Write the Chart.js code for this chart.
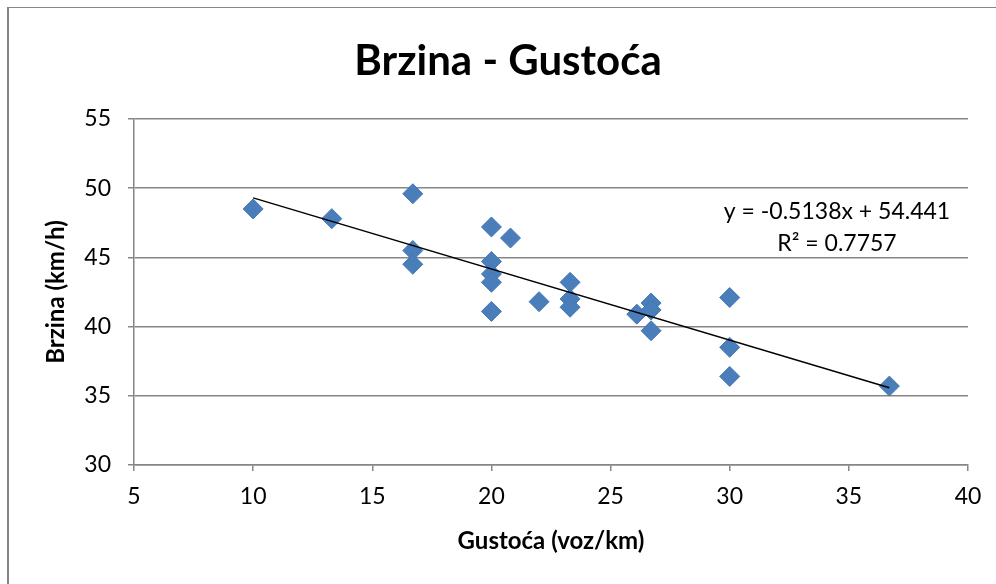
<!DOCTYPE html>
<html>
<head>
<meta charset="utf-8">
<script src="https://cdn.jsdelivr.net/npm/chart.js@4/dist/chart.umd.min.js"></script>
<style>
  html, body { margin: 0; padding: 0; background: #fff; }
  #wrap { width: 996px; height: 584px; }
</style>
</head>
<body>
<div id="wrap"><canvas id="chart" width="996" height="584"></canvas></div>
<script>
// Gustoća (voz/km) and Brzina (km/h)
const gustoca = [10, 13.3, 16.7, 16.7, 16.7, 20, 20, 20, 20, 20, 20.8, 22, 23.3, 23.3, 23.3, 26.1, 26.7, 26.7, 26.7, 30, 30, 30, 36.7];
const brzina  = [48.5, 47.8, 49.6, 45.5, 44.5, 47.2, 44.7, 43.8, 43.2, 41.1, 46.4, 41.8, 43.2, 42.0, 41.4, 40.9, 41.7, 41.2, 39.7, 42.1, 38.5, 36.4, 35.7];

// linear trend as printed on the chart
const slope = -0.5138;
const intercept = 54.441;
const trendLabel = ['y = -0.5138x + 54.441', 'R\u00b2 = 0.7757'];
const chartTitle = 'Brzina - Gustoća';

const points = gustoca.map((x, i) => ({ x: x, y: brzina[i] }));
const xMin = Math.min(...gustoca);
const xMax = Math.max(...gustoca);
const trend = [xMin, xMax].map(x => ({ x: x, y: slope * x + intercept }));

const FONT = "Lato, 'Liberation Sans', sans-serif";
const GRID = '#868686';

// outer frame (only top and left edges show in the picture) and the title
const framePlugin = {
    id: 'frame',
    beforeDraw(chart) {
        const ctx = chart.ctx;
        ctx.save();
        ctx.fillStyle = GRID;
        ctx.fillRect(7, 7, 2, 584);
        ctx.fillRect(7, 7, 996, 1);
        ctx.fillStyle = '#000';
        ctx.font = 'bold 42px ' + FONT;
        ctx.textAlign = 'center';
        ctx.textBaseline = 'alphabetic';
        ctx.fillText(chartTitle, 508, 75);
        ctx.restore();
    }
};

// trendline equation text
const eqPlugin = {
    id: 'equation',
    afterDatasetsDraw(chart) {
        const ctx = chart.ctx;
        const area = chart.chartArea;
        ctx.save();
        ctx.fillStyle = '#000';
        ctx.font = '23px ' + FONT;
        ctx.textAlign = 'center';
        ctx.textBaseline = 'middle';
        const cx = area.right - 131;
        ctx.fillText(trendLabel[0], cx, area.top + 93);
        ctx.fillText(trendLabel[1], cx, area.top + 125);
        ctx.restore();
    }
};

new Chart(document.getElementById('chart').getContext('2d'), {
    type: 'scatter',
    data: {
        datasets: [{
            label: 'Brzina',
            data: points,
            pointStyle: 'rectRot',
            pointRadius: 10,
            pointHoverRadius: 10,
            backgroundColor: '#4a7ebb',
            borderColor: '#4677b4',
            borderWidth: 1,
            order: 2
        }, {
            type: 'line',
            label: 'Trend',
            data: trend,
            borderColor: '#000',
            borderWidth: 1.5,
            pointRadius: 0,
            fill: false,
            order: 1
        }]
    },
    options: {
        responsive: false,
        animation: false,
        layout: { padding: { left: 42, right: 28, top: 119, bottom: 28 } },
        plugins: {
            legend: { display: false },
            tooltip: { enabled: false },
            title: { display: false }
        },
        scales: {
            x: {
                type: 'linear',
                min: 5,
                max: 40,
                ticks: { stepSize: 5, color: '#000', font: { family: FONT, size: 23 }, padding: 12 },
                grid: { drawOnChartArea: false, drawTicks: true, tickLength: 6, color: GRID, lineWidth: 1.5 },
                border: { color: GRID, width: 1.5 },
                title: {
                    display: true,
                    text: 'Gustoća (voz/km)',
                    color: '#000',
                    font: { family: FONT, size: 24, weight: 'bold' },
                    padding: 0
                },
                afterFit(scale) { scale.height = 584 - 28 - 465; }
            },
            y: {
                min: 30,
                max: 55,
                ticks: { stepSize: 5, color: '#000', font: { family: FONT, size: 23 }, padding: 17 },
                grid: { color: GRID, lineWidth: 1.5, tickLength: 6 },
                border: { color: GRID, width: 1.5 },
                title: {
                    display: true,
                    text: 'Brzina (km/h)',
                    color: '#000',
                    font: { family: FONT, size: 24, weight: 'bold' },
                    padding: 0
                },
                afterFit(scale) { scale.width = 134 - 42; }
            }
        }
    },
    plugins: [framePlugin, eqPlugin]
});
</script>
</body>
</html>
